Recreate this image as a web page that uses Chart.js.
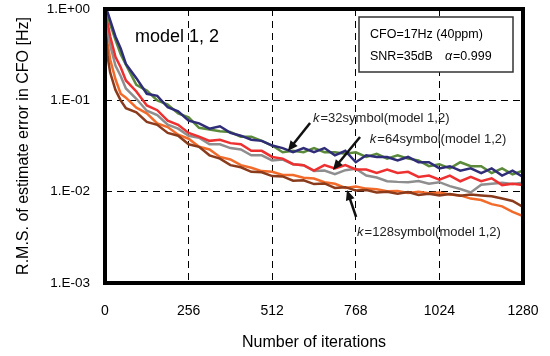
<!DOCTYPE html>
<html>
<head>
<meta charset="utf-8">
<script src="https://cdn.jsdelivr.net/npm/chart.js@4/dist/chart.umd.min.js"></script>
<style>
  html, body { margin: 0; padding: 0; background: #fff; }
  #wrap { width: 550px; height: 356px; }
</style>
</head>
<body>
<div id="wrap"><canvas id="cfoChart" width="550" height="356"></canvas></div>
<script>
// iterations (x)
const iters = [0, 8, 16, 32, 48, 64, 96, 128, 160, 192, 224, 256, 288, 320, 352, 384, 416, 448, 480, 512,
  544, 576, 608, 640, 672, 704, 736, 768, 800, 832, 864, 896, 928, 960, 992, 1024, 1056, 1088, 1120, 1152,
  1184, 1216, 1248, 1280];

// R.M.S. error [Hz]
const k32_m1 = [1.0, 0.92, 0.75, 0.5, 0.37, 0.25, 0.175, 0.118, 0.112, 0.084, 0.076, 0.060, 0.056, 0.049, 0.052, 0.044, 0.041, 0.037, 0.036, 0.032,
  0.030, 0.027, 0.030, 0.027, 0.030, 0.025, 0.028, 0.021, 0.025, 0.024, 0.024, 0.022, 0.024, 0.021, 0.021, 0.018, 0.019, 0.017, 0.018, 0.016,
  0.018, 0.015, 0.017, 0.0145];
const k32_m2 = [1.0, 0.88, 0.68, 0.46, 0.32, 0.245, 0.148, 0.128, 0.1, 0.09, 0.072, 0.065, 0.05, 0.048, 0.046, 0.045, 0.040, 0.040, 0.036, 0.032,
  0.027, 0.028, 0.027, 0.030, 0.027, 0.027, 0.026, 0.027, 0.024, 0.026, 0.023, 0.025, 0.023, 0.022, 0.019, 0.020, 0.018, 0.021, 0.019, 0.019,
  0.016, 0.018, 0.0155, 0.017];
const k64_m1 = [1.0, 0.7, 0.5, 0.3, 0.23, 0.165, 0.125, 0.088, 0.078, 0.06, 0.054, 0.044, 0.040, 0.036, 0.037, 0.034, 0.033, 0.028, 0.028, 0.024,
  0.023, 0.020, 0.0195, 0.017, 0.0195, 0.018, 0.0195, 0.0175, 0.0175, 0.016, 0.0175, 0.016, 0.0165, 0.0145, 0.015, 0.0135, 0.015, 0.013, 0.0145, 0.013,
  0.014, 0.0118, 0.0122, 0.0118];
const k64_m2 = [0.95, 0.6, 0.4, 0.24, 0.185, 0.135, 0.104, 0.077, 0.069, 0.054, 0.049, 0.041, 0.039, 0.033, 0.033, 0.030, 0.029, 0.025, 0.025, 0.022,
  0.0225, 0.020, 0.0195, 0.0168, 0.017, 0.0155, 0.0172, 0.0178, 0.015, 0.0143, 0.013, 0.0128, 0.0127, 0.0131, 0.0122, 0.0127, 0.0115, 0.0107, 0.0098, 0.0119,
  0.0122, 0.0125, 0.0121, 0.0125];
const k128_m1 = [0.9, 0.3, 0.2, 0.13, 0.1, 0.082, 0.074, 0.058, 0.054, 0.044, 0.041, 0.033, 0.031, 0.025, 0.023, 0.0195, 0.0185, 0.0165, 0.0163, 0.0148,
  0.0147, 0.0132, 0.0133, 0.0121, 0.0123, 0.011, 0.0112, 0.0103, 0.0104, 0.0098, 0.0100, 0.0095, 0.0099, 0.0092, 0.0095, 0.0091, 0.0094, 0.009, 0.0093, 0.0091,
  0.0089, 0.0084, 0.0079, 0.0068];
const k128_m2 = [0.98, 0.42, 0.28, 0.17, 0.118, 0.107, 0.083, 0.072, 0.056, 0.051, 0.042, 0.038, 0.031, 0.029, 0.024, 0.0225, 0.0195, 0.0183, 0.0168, 0.0165,
  0.0152, 0.0152, 0.0142, 0.0139, 0.0127, 0.0122, 0.011, 0.0114, 0.0108, 0.0106, 0.0101, 0.0102, 0.0097, 0.01, 0.0096, 0.0098, 0.0093, 0.0091, 0.0084, 0.0081,
  0.0073, 0.0069, 0.006, 0.0054];

const xTicks = [0, 256, 512, 768, 1024, 1280];
const yTicks = [0.001, 0.01, 0.1, 1];
const yTickLabels = ['1.E-03', '1.E-02', '1.E-01', '1.E+00'];

const FONT = '"Liberation Sans", Arial, sans-serif';

function pts(vals) {
  return iters.map((x, i) => ({ x: x, y: vals[i] }));
}

function series(label, vals, color) {
  return {
    label: label,
    data: pts(vals),
    borderColor: color,
    borderWidth: 2.5,
    pointRadius: 0,
    tension: 0,
    fill: false
  };
}

// text labels with arrows (data coordinates)
const notes = [
  { k: 'k', text: '=32symbol(model 1,2)', at: [637, 0.0641], from: [628, 0.0565], to: [560, 0.0279] },
  { k: 'k', text: '=64symbol(model 1,2)', at: [811, 0.0377], from: [781, 0.0397], to: [698, 0.0173] },
  { k: 'k', text: '=128symbol(model 1,2)', at: [772, 0.00362], from: [769, 0.00528], to: [741, 0.0104] }
];

const decor = {
  id: 'decor',
  afterDraw(chart) {
    const ctx = chart.ctx;
    const a = chart.chartArea;
    const xs = chart.scales.x, ys = chart.scales.y;
    ctx.save();

    // frame
    ctx.strokeStyle = '#000';
    ctx.lineWidth = 4;
    ctx.strokeRect(a.left, a.top, a.right - a.left, a.bottom - a.top);

    // model label
    ctx.fillStyle = '#000';
    ctx.font = '18px ' + FONT;
    ctx.textBaseline = 'middle';
    ctx.textAlign = 'left';
    ctx.fillText('model 1, 2', a.left + 30, a.top + 28);

    // condition box
    const bx = a.right - 164, by = a.top + 8, bw = 154, bh = 55;
    ctx.fillStyle = '#fff';
    ctx.fillRect(bx, by, bw, bh);
    ctx.lineWidth = 1.5;
    ctx.strokeStyle = '#333';
    ctx.strokeRect(bx, by, bw, bh);
    ctx.fillStyle = '#000';
    ctx.font = '12.5px ' + FONT;
    ctx.fillText('CFO=17Hz (40ppm)', bx + 11, by + 18);
    ctx.fillText('SNR=35dB', bx + 11, by + 40);
    ctx.font = 'italic 12.5px ' + FONT;
    ctx.fillText('\u03b1', bx + 86, by + 40);
    ctx.font = '12.5px ' + FONT;
    ctx.fillText('=0.999', bx + 94, by + 40);

    // arrow annotations
    notes.forEach(n => {
      const tx = xs.getPixelForValue(n.at[0]), ty = ys.getPixelForValue(n.at[1]);
      ctx.fillStyle = '#222';
      ctx.font = 'italic 13px ' + FONT;
      ctx.fillText(n.k, tx, ty);
      const kw = ctx.measureText(n.k).width;
      ctx.font = '13px ' + FONT;
      ctx.fillText(n.text, tx + kw + 1, ty);

      const x1 = xs.getPixelForValue(n.from[0]), y1 = ys.getPixelForValue(n.from[1]);
      const x2 = xs.getPixelForValue(n.to[0]), y2 = ys.getPixelForValue(n.to[1]);
      const ang = Math.atan2(y2 - y1, x2 - x1);
      ctx.strokeStyle = '#111';
      ctx.lineWidth = 2.5;
      ctx.beginPath();
      ctx.moveTo(x1, y1);
      ctx.lineTo(x2 - 6 * Math.cos(ang), y2 - 6 * Math.sin(ang));
      ctx.stroke();
      ctx.fillStyle = '#111';
      ctx.beginPath();
      ctx.moveTo(x2, y2);
      ctx.lineTo(x2 - 10 * Math.cos(ang) + 4.5 * Math.sin(ang), y2 - 10 * Math.sin(ang) - 4.5 * Math.cos(ang));
      ctx.lineTo(x2 - 10 * Math.cos(ang) - 4.5 * Math.sin(ang), y2 - 10 * Math.sin(ang) + 4.5 * Math.cos(ang));
      ctx.closePath();
      ctx.fill();
    });

    ctx.restore();
  }
};

new Chart(document.getElementById('cfoChart'), {
  type: 'line',
  data: {
    datasets: [
      series('k=32 model 1', k32_m1, '#2f2c78'),
      series('k=32 model 2', k32_m2, '#5b8a3a'),
      series('k=64 model 1', k64_m1, '#ee3030'),
      series('k=64 model 2', k64_m2, '#8e8e8e'),
      series('k=128 model 1', k128_m1, '#8a3b1c'),
      series('k=128 model 2', k128_m2, '#f26b2a')
    ]
  },
  options: {
    responsive: false,
    animation: false,
    layout: { padding: { top: 9, right: 27, left: 0, bottom: 0 } },
    plugins: {
      legend: { display: false },
      tooltip: { enabled: false }
    },
    scales: {
      x: {
        type: 'linear',
        min: 0,
        max: 1280,
        afterBuildTicks: s => { s.ticks = xTicks.map(v => ({ value: v })); },
        afterFit: s => { s.height = 73; s.paddingLeft = 0; s.paddingRight = 0; },
        grid: { color: '#000', lineWidth: 1, drawTicks: false },
        border: { display: false, dash: [7, 5] },
        ticks: { padding: 20, color: '#000', font: { family: FONT, size: 14 }, maxRotation: 0, callback: v => String(v) },
        title: { display: true, text: 'Number of iterations', color: '#000', font: { family: FONT, size: 16 }, padding: { top: 12 } }
      },
      y: {
        type: 'logarithmic',
        min: 0.001,
        max: 1,
        afterBuildTicks: s => { s.ticks = yTicks.map(v => ({ value: v })); },
        afterFit: s => { s.width = 105; s.paddingTop = 0; s.paddingBottom = 0; },
        grid: { color: '#000', lineWidth: 1, drawTicks: false },
        border: { display: false, dash: [7, 5] },
        ticks: {
          padding: 15,
          color: '#000',
          font: { family: FONT, size: 13.5 },
          callback: v => { const i = yTicks.indexOf(v); return i >= 0 ? yTickLabels[i] : ''; }
        },
        title: { display: true, text: 'R.M.S. of estimate error in CFO [Hz]', color: '#000', font: { family: FONT, size: 16 }, padding: { top: 14, bottom: 0 } }
      }
    }
  },
  plugins: [decor]
});
</script>
</body>
</html>
